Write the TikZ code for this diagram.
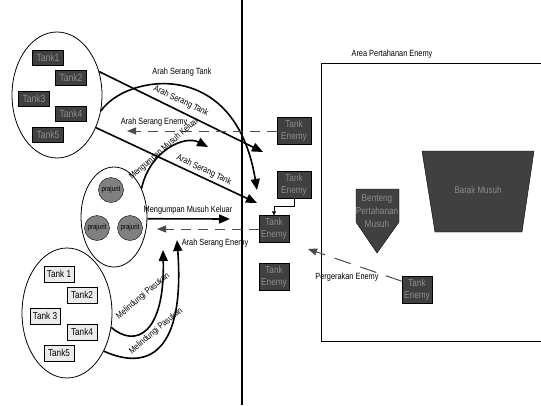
\documentclass[tikz,border=0pt]{standalone}
\usepackage{fontspec}
\setmainfont{Liberation Sans}[FakeStretch=0.82]
\usetikzlibrary{shapes,positioning,arrows.meta,calc}

\tikzset{
  tankgelap/.style={draw, fill=black!75, text=black!45, minimum width=31pt, minimum height=15pt, inner sep=0pt, font=\fontsize{10.5}{11}\selectfont},
  tankterang/.style={draw, fill=black!8, minimum width=30pt, minimum height=16pt, inner sep=0pt, font=\fontsize{10}{11}\selectfont},
  tankenemy/.style={draw, fill=black!75, text=black!45, minimum height=27pt, inner sep=0pt, align=center, font=\fontsize{10}{11.5}\selectfont},
  prajurit/.style={circle, draw, fill=black!50, minimum size=25pt, inner sep=0pt, font=\fontsize{7.5}{8}\selectfont},
  grup/.style={ellipse, draw, line width=0.8pt, inner sep=0pt},
  serang/.style={line width=1.6pt, -{Triangle[length=11pt,width=9pt]}},
  balas/.style={line width=1pt, black!70, dash pattern=on 10pt off 7pt, -{Triangle[length=9pt,width=7pt]}},
  ket/.style={font=\fontsize{9}{10}\selectfont, inner sep=1pt},
}

\begin{document}
\begin{tikzpicture}[x=1pt,y=-1pt]
    \useasboundingbox (0,0) rectangle (541,405);

    % garis batas
    \draw[line width=1.6pt] (242,0) -- (242,405);

    % area pertahanan
    \draw[line width=0.8pt] (541,63) -- (321,63) -- (321,341) -- (541,341);
    \node[ket] (area) at (392,54) {Area Pertahanan Enemy};
    \draw[fill=black!75] (422,151) -- (534,151) -- (522,232) -- (435,232) -- cycle;
    \node[ket, text=black!45, font=\fontsize{9.7}{11}\selectfont] (barak) at (478,190) {Barak Musuh};
    \draw[fill=black!75] (356,189) -- (399,189) -- (399,222) -- (377,253) -- (356,222) -- cycle;
    \node[ket, text=black!45, align=center, font=\fontsize{10}{13}\selectfont] (benteng) at (377,211) {Benteng\\Pertahanan\\Musuh};

    % pasukan
    \node[grup, minimum width=90pt, minimum height=126pt] (grupA) at (57,95) {};
    \node[tankgelap] (a1) at (48,58) {Tank1};
    \node[tankgelap] (a2) at (71,78) {Tank2};
    \node[tankgelap] (a3) at (34,99) {Tank3};
    \node[tankgelap] (a4) at (71,114) {Tank4};
    \node[tankgelap] (a5) at (48,135) {Tank5};

    \node[grup, minimum width=66pt, minimum height=100pt] (grupB) at (114,217) {};
    \node[prajurit] (p1) at (111,190) {prajurit};
    \node[prajurit] (p2) at (97,228) {prajurit};
    \node[prajurit] (p3) at (130,228) {prajurit};

    \node[grup, minimum width=90pt, minimum height=130pt] (grupC) at (67,313) {};
    \node[tankterang] (c1) at (59,274) {Tank 1};
    \node[tankterang] (c2) at (82,295) {Tank2};
    \node[tankterang] (c3) at (45,316) {Tank 3};
    \node[tankterang] (c4) at (82,332) {Tank4};
    \node[tankterang] (c5) at (59,353) {Tank5};

    % tank enemy
    \node[tankenemy, minimum width=34pt] (te1) at (294,131) {Tank\\Enemy};
    \node[tankenemy, minimum width=34pt] (te2) at (294,185) {Tank\\Enemy};
    \node[tankenemy, minimum width=30pt] (te3) at (274,229) {Tank\\Enemy};
    \node[tankenemy, minimum width=30pt] (te4) at (274,277) {Tank\\Enemy};
    \node[tankenemy, minimum width=30pt] (te5) at (417,290) {Tank\\Enemy};

    \coordinate (ujung1) at (263,152);
    \coordinate (ujung2) at (257,190);
    \coordinate (ujung3) at (257,203);
    \coordinate (ujung4) at (208,147);
    \coordinate (ujung5) at (230,219);
    \coordinate (ujung6) at (163,250);
    \coordinate (ujung7) at (177,240);
    \coordinate (ujung8) at (127,131);
    \coordinate (ujung9) at (157,229);
    \coordinate (ujung10) at (308,249);

    % arah serang
    \draw[serang] (grupA.29) -- (ujung1);
    \draw[serang] (grupA.-20) .. controls (125,75) and (235,55) .. (ujung2);
    \draw[serang] (grupA.-40) -- (ujung3);
    \draw[serang] (grupB.46) .. controls (150,150) and (185,135) .. (ujung4);
    \draw[serang] (grupB.-3) -- (ujung5);
    \draw[serang] (grupC.-18) .. controls (135,348) and (165,335) .. (ujung6);
    \draw[serang] (grupC.-46) .. controls (150,372) and (185,350) .. (ujung7);
    \draw[balas] (te1.west) -- (ujung8);
    \draw[balas] (te3.west) -- (ujung9);
    \draw[balas, dash pattern=on 17pt off 10pt] (te5.150) -- (ujung10);
    \draw[line width=0.6pt, -{Triangle[length=4pt,width=4pt]}] (te2.south) -- ++(0,8) -| (te3.north);

    % keterangan
    \node[ket] (k1) at (182,72) {Arah Serang Tank};
    \node[ket, rotate=-25] (k2) at (181,101) {Arah Serang Tank};
    \node[ket] (k3) at (154,122) {Arah Serang Enemy};
    \node[ket, rotate=41] (k4) at (164,149) {Mengumpan Musuh Keluar};
    \node[ket, rotate=-25] (k5) at (204,170) {Arah Serang Tank};
    \node[ket] (k6) at (188,210) {Mengumpan Musuh Keluar};
    \node[ket] (k7) at (215,243) {Arah Serang Enemy};
    \node[ket, rotate=40] (k8) at (143,296) {Melindungi Pasukan};
    \node[ket, rotate=40] (k9) at (156,331) {Melindungi Pasukan};
    \node[ket] (k10) at (347,277) {Pergerakan Enemy};
\end{tikzpicture}
\end{document}
